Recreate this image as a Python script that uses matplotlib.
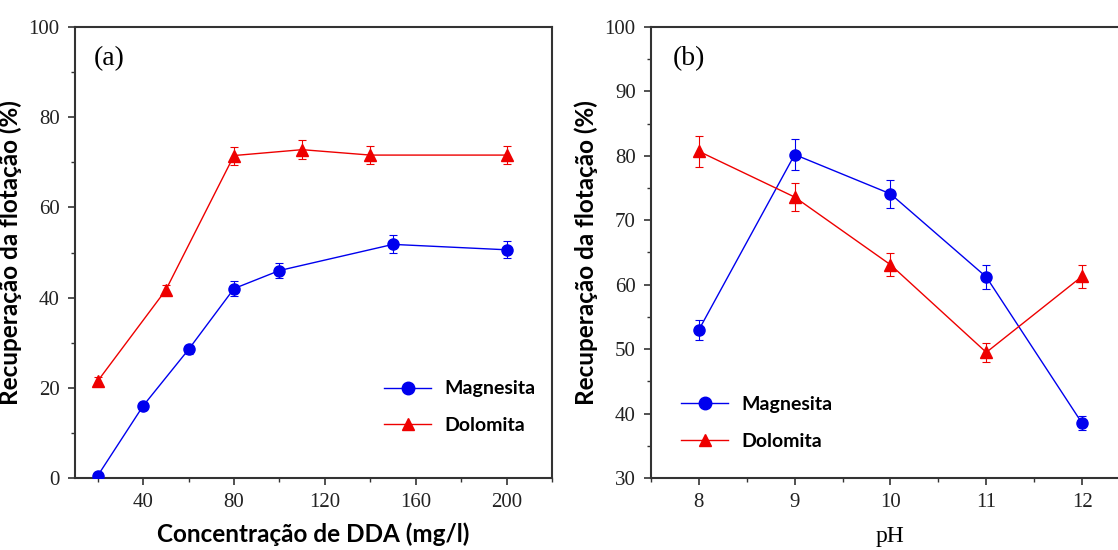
import matplotlib.pyplot as plt
from matplotlib.lines import Line2D
from matplotlib.ticker import MultipleLocator

# (a) flotation recovery vs DDA concentration
dda_mag = [20, 40, 60, 80, 100, 150, 200]
rec_mag_a = [0.5, 16.0, 28.5, 42.0, 46.0, 51.8, 50.6]
err_mag_a = [0.8, 0.9, 1.0, 1.6, 1.7, 2.0, 1.9]
dda_dol = [20, 50, 80, 110, 140, 200]
rec_dol_a = [21.5, 41.7, 71.5, 72.8, 71.6, 71.6]
err_dol_a = [0.9, 1.0, 2.0, 2.1, 2.0, 2.0]

# (b) flotation recovery vs pH
ph = [8, 9, 10, 11, 12]
rec_mag_b = [53.0, 80.2, 74.1, 61.2, 38.5]
err_mag_b = [1.6, 2.4, 2.2, 1.8, 1.1]
rec_dol_b = [80.7, 73.6, 63.1, 49.5, 61.3]
err_dol_b = [2.4, 2.2, 1.8, 1.5, 1.8]

BLUE = "#0000ee"
RED = "#ee0000"
SERIF = "Liberation Serif"
SANS = "Lato"

fig = plt.figure(figsize=(11.18, 5.5), dpi=100)
ax1 = fig.add_axes([75 / 1118, 72 / 550, 477 / 1118, 451 / 550])
ax2 = fig.add_axes([651 / 1118, 72 / 550, 479 / 1118, 451 / 550])


def series(ax, x, y, e, color, marker):
    ax.errorbar(x, y, yerr=e, color=color, marker=marker, markersize=8,
                linewidth=1.0, elinewidth=0.8, capsize=3, capthick=0.8,
                ecolor=color, zorder=3)


series(ax1, dda_mag, rec_mag_a, err_mag_a, BLUE, "o")
series(ax1, dda_dol, rec_dol_a, err_dol_a, RED, "^")
series(ax2, ph, rec_mag_b, err_mag_b, BLUE, "o")
series(ax2, ph, rec_dol_b, err_dol_b, RED, "^")

ax1.set_xlim(10, 220)
ax1.set_ylim(0, 100)
ax1.xaxis.set_major_locator(MultipleLocator(40))
ax1.xaxis.set_minor_locator(MultipleLocator(20))
ax1.yaxis.set_major_locator(MultipleLocator(20))
ax1.yaxis.set_minor_locator(MultipleLocator(10))
ax1.set_xticks([40, 80, 120, 160, 200])

ax2.set_xlim(7.5, 12.5)
ax2.set_ylim(30, 100)
ax2.xaxis.set_major_locator(MultipleLocator(1))
ax2.xaxis.set_minor_locator(MultipleLocator(0.5))
ax2.yaxis.set_major_locator(MultipleLocator(10))
ax2.yaxis.set_minor_locator(MultipleLocator(5))

for ax in (ax1, ax2):
    for s in ax.spines.values():
        s.set_color("#333333")
        s.set_linewidth(1.5)
    ax.tick_params(which="major", direction="out", length=5, width=1.2,
                   color="#333333", labelsize=15, pad=6)
    ax.tick_params(which="minor", direction="out", length=3, width=1.0,
                   color="#333333")
    for lab in ax.get_xticklabels() + ax.get_yticklabels():
        lab.set_fontfamily(SERIF)
        lab.set_color("#222222")
    ax.set_ylabel("Recuperação da flotação (%)", fontfamily=SANS,
                  fontweight="bold", fontsize=17.5)
    ax.yaxis.set_label_coords(-0.111, 0.5)

ax1.set_xlabel("Concentração de DDA (mg/l)", fontfamily=SANS,
               fontweight="bold", fontsize=17.5, va="center")
ax1.xaxis.set_label_coords(0.5, -0.124)
ax2.set_xlabel("pH", fontfamily=SERIF, fontsize=17, va="center")
ax2.xaxis.set_label_coords(0.5, -0.13)

ax1.text(0.04, 0.93, "(a)", transform=ax1.transAxes, fontfamily=SERIF,
         fontsize=20, va="center")
ax2.text(0.045, 0.93, "(b)", transform=ax2.transAxes, fontfamily=SERIF,
         fontsize=20, va="center")

handles = [
    Line2D([], [], color=BLUE, marker="o", markersize=9, linewidth=1.0),
    Line2D([], [], color=RED, marker="^", markersize=9, linewidth=1.0),
]
labels = ["Magnesita", "Dolomita"]
leg_kw = dict(frameon=False, prop={"family": SANS, "weight": "bold", "size": 14},
              handlelength=2.4, labelspacing=1.0, handletextpad=0.7)
ax1.legend(handles, labels, loc="center left", bbox_to_anchor=(0.612, 0.157), **leg_kw)
ax2.legend(handles, labels, loc="center left", bbox_to_anchor=(0.027, 0.122), **leg_kw)

fig.savefig("out.png", dpi=100)
